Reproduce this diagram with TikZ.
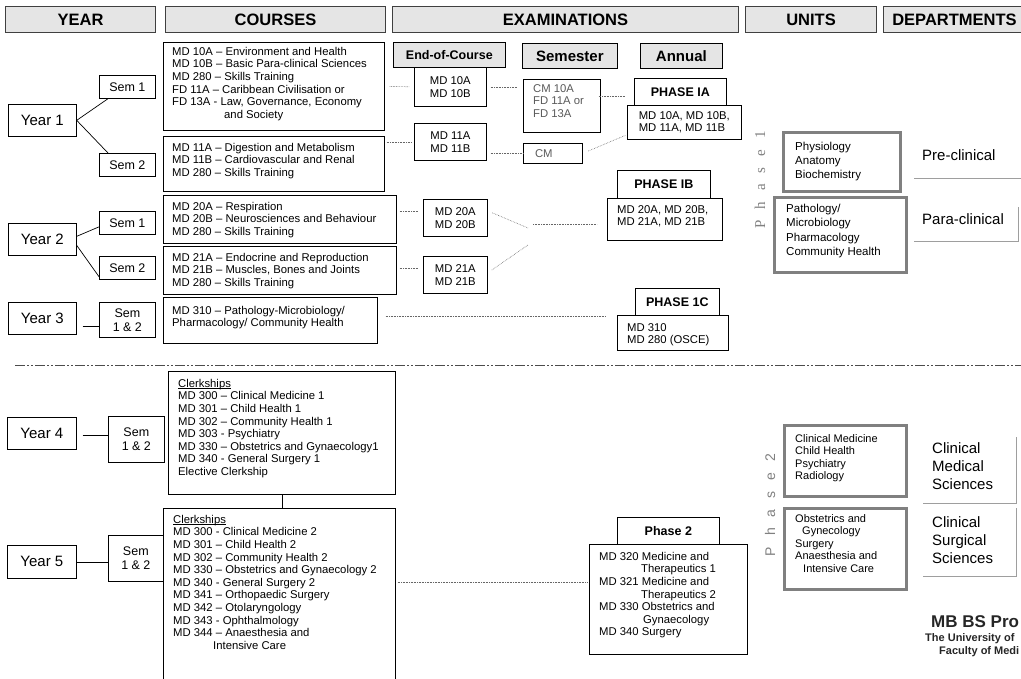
\documentclass[tikz,border=0pt]{standalone}
\usepackage{fontspec}
\setmainfont{Liberation Sans}
\newfontfamily\phaseserif{Liberation Serif}
\usetikzlibrary{positioning}

\definecolor{hdrgray}{gray}{0.9}
\definecolor{unitgray}{gray}{0.5}
\definecolor{linegray}{gray}{0.62}
\definecolor{textgray}{gray}{0.35}

\newcommand{\clerkhead}{\rlap{\rule[-1.5pt]{52.7pt}{0.5pt}}Clerkships}

\tikzset{
  dims/.style 2 args={minimum width=#1pt, minimum height=#2pt},
  hdr/.style={draw=black!75, line width=1pt, fill=hdrgray, anchor=north west, inner sep=0pt, font=\bfseries\fontsize{16.5}{18}\selectfont},
  subhdr/.style={draw, line width=0.7pt, fill=hdrgray, anchor=north west, inner sep=0pt},
  phhdr/.style={draw, line width=0.7pt, fill=white, anchor=north west, inner sep=0pt, font=\bfseries\fontsize{12.5}{14}\selectfont},
  box/.style={draw, line width=0.7pt, anchor=north west, inner sep=0pt, align=center},
  yearbox/.style={box, font=\fontsize{15}{18}\selectfont},
  sembox/.style={box, font=\fontsize{12.5}{14}\selectfont},
  exbox/.style={box, align=left, font=\fontsize{11.3}{12.6}\selectfont},
  txt/.style={anchor=north west, align=left, inner sep=0pt, font=\fontsize{11.3}{12.6}\selectfont},
  unitbox/.style={draw=unitgray, line width=3pt, anchor=north west, inner sep=0pt},
  dept/.style={anchor=west, align=left, inner sep=0pt, font=\fontsize{15}{18}\selectfont},
  deptline/.style={draw=linegray, line width=0.9pt},
  dotline/.style={densely dotted, draw=black!60, line width=0.6pt},
  link/.style={draw, line width=0.7pt},
}

\begin{document}
\begin{tikzpicture}[x=1pt, y=-1pt]
\useasboundingbox (0,0) rectangle (1021,679);
\clip (0,0) rectangle (1021,679);

% Column headers
\node[hdr, dims={150}{26}] (hyear) at (5,6) {YEAR};
\node[hdr, dims={220}{26}] (hcourses) at (165,6) {COURSES};
\node[hdr, dims={346}{26}] (hexam) at (392,6) {EXAMINATIONS};
\node[hdr, dims={131}{26}] (hunits) at (745,6) {UNITS};
\node[hdr, dims={142}{26}] (hdept) at (883,6) {DEPARTMENTS};

% Examination sub-headers
\node[subhdr, dims={112}{25}, font=\bfseries\fontsize{12.5}{14}\selectfont] (heoc) at (393,42) {End-of-Course};
\node[subhdr, dims={95}{25}, font=\bfseries\fontsize{15}{17}\selectfont] (hsem) at (522,43) {Semester};
\node[subhdr, dims={82}{25}, font=\bfseries\fontsize{15}{17}\selectfont] (hann) at (640,43) {Annual};

% Year 1
\node[yearbox, dims={68}{32}] (y1) at (8,104) {Year 1};
\node[sembox, dims={56}{23}] (s1a) at (99,75) {Sem 1};
\node[sembox, dims={56}{23}] (s2a) at (99,153) {Sem 2};
\node[box, dims={221}{88}] (c1) at (163,42) {};
\node[txt] (c1t) at ([shift={(9,5)}]c1.north west) {MD 10A – Environment and Health\\MD 10B – Basic Para-clinical Sciences\\MD 280 – Skills Training\\FD 11A – Caribbean Civilisation or\\FD 13A - Law, Governance, Economy\\\hspace*{52pt}and Society};
\node[box, dims={221}{55}] (c2) at (163,136) {};
\node[txt] (c2t) at ([shift={(9,7)}]c2.north west) {MD 11A – Digestion and Metabolism\\MD 11B – Cardiovascular and Renal\\MD 280 – Skills Training};

\node[exbox, dims={72}{39}] (e10) at (414,67) {MD 10A\\MD 10B};
\node[exbox, dims={72}{37}] (e11) at (414,123) {MD 11A\\MD 11B};
\node[box, dims={77}{53}] (s10) at (523,79) {};
\node[txt, text=textgray] (s10t) at ([shift={(10,5)}]s10.north west) {CM 10A\\FD 11A or\\FD 13A};
\node[box, dims={59}{20}, font=\fontsize{11.3}{12.6}\selectfont, text=textgray] (scm) at (523,143) {\hspace*{-18pt}CM};
\node[exbox, dims={114}{34}] (pIAb) at (627,105) {MD 10A, MD 10B,\\MD 11A, MD 11B};
\node[phhdr, dims={92}{27}] (pIAh) at (634,78) {PHASE IA};

% Year 2
\node[yearbox, dims={68}{32}] (y2) at (8,223) {Year 2};
\node[sembox, dims={56}{23}] (s1b) at (99,211) {Sem 1};
\node[sembox, dims={56}{23}] (s2b) at (99,256) {Sem 2};
\node[box, dims={233}{48}] (c3) at (163,195) {};
\node[txt] (c3t) at ([shift={(9,7)}]c3.north west) {MD 20A – Respiration\\MD 20B – Neurosciences and Behaviour\\MD 280 – Skills Training};
\node[box, dims={233}{48}] (c4) at (163,246) {};
\node[txt] (c4t) at ([shift={(9,7)}]c4.north west) {MD 21A – Endocrine and Reproduction\\MD 21B – Muscles, Bones and Joints\\MD 280 – Skills Training};
\node[exbox, dims={64}{37}] (e20) at (423,199) {MD 20A\\MD 20B};
\node[exbox, dims={64}{37}] (e21) at (423,256) {MD 21A\\MD 21B};
\node[box, dims={115}{42}] (pIBb) at (607,198) {};
\node[txt] (pIBt) at ([shift={(10,7)}]pIBb.north west) {MD 20A, MD 20B,\\MD 21A, MD 21B};
\node[phhdr, dims={93}{28}] (pIBh) at (617,170) {PHASE IB};
\coordinate (ja) at (528,228);
\coordinate (jb) at (528,245);
\coordinate (jn) at (533,224);

% Year 3
\node[yearbox, dims={68}{32}] (y3) at (8,302) {Year 3};
\node[sembox, dims={56}{35}] (s3) at (99,302) {Sem\\1 \& 2};
\node[box, dims={214}{46}] (c5) at (163,297) {};
\node[txt] (c5t) at ([shift={(9,9)}]c5.north west) {MD 310 – Pathology-Microbiology/\\Pharmacology/ Community Health};
\node[box, dims={111}{35}] (pICb) at (617,315) {};
\node[txt] (pICt) at ([shift={(10,8)}]pICb.north west) {MD 310\\MD 280 (OSCE)};
\node[phhdr, dims={84}{27}] (pICh) at (635,288) {PHASE 1C};

% Phase separator
\draw[black!70, line width=0.9pt, dash pattern={on 10pt off 2pt on 2pt off 2pt on 2pt off 2pt}] (15,365) -- (1021,365);

% Year 4
\node[yearbox, dims={69}{32}] (y4) at (7,417) {Year 4};
\node[sembox, dims={56}{46}] (s4) at (108,416) {Sem\\1 \& 2};
\node[box, dims={227}{123}] (c6) at (168,371) {};
\node[txt] (c6t) at ([shift={(10,8)}]c6.north west) {\clerkhead\\MD 300 – Clinical Medicine 1\\MD 301 – Child Health 1\\MD 302 – Community Health 1\\MD 303 - Psychiatry\\MD 330 – Obstetrics and Gynaecology1\\MD 340 - General Surgery 1\\Elective Clerkship};

% Year 5
\node[yearbox, dims={69}{33}] (y5) at (7,545) {Year 5};
\node[sembox, dims={55}{46}] (s5) at (108,535) {Sem\\1 \& 2};
\node[box, dims={232}{185}] (c7) at (163,508) {};
\node[txt] (c7t) at ([shift={(10,7)}]c7.north west) {\clerkhead\\MD 300 - Clinical Medicine 2\\MD 301 – Child Health 2\\MD 302 – Community Health 2\\MD 330 – Obstetrics and Gynaecology 2\\MD 340 - General Surgery 2\\MD 341 – Orthopaedic Surgery\\MD 342 – Otolaryngology\\MD 343 - Ophthalmology\\MD 344 – Anaesthesia and\\\hspace*{40pt}Intensive Care};
\node[box, dims={158}{110}] (p2b) at (589,544) {};
\node[txt] (p2t) at ([shift={(10,8)}]p2b.north west) {MD 320 Medicine and\\\hspace*{42pt}Therapeutics 1\\MD 321 Medicine and\\\hspace*{42pt}Therapeutics 2\\MD 330 Obstetrics and\\\hspace*{44pt}Gynaecology\\MD 340 Surgery};
\node[phhdr, dims={102}{27}] (p2h) at (617,517) {Phase 2};

% Year to semester links
\draw[link] (y1.east) -- ([xshift=9pt]s1a.south west);
\draw[link] (y1.east) -- ([xshift=9pt]s2a.north west);
\draw[link] ([yshift=3pt]y2.east) -- ([yshift=-4pt]s1b.west);
\draw[link] ([yshift=-6pt]y2.east) -- ([yshift=3pt]s2b.south west);
\draw[link] ([xshift=6pt,yshift=-8pt]y3.east) -- ([yshift=-8pt]y3.east -| s3.west);
\draw[link] ([xshift=6pt,yshift=-2pt]y4.east) -- ([yshift=-2pt]y4.east -| s4.west);
\draw[link] (y5.east) -- (y5.east -| s5.west);
\draw[link] (c6.south) -- (c6.south |- c7.north);

% Course to examination links
\draw[dotline, shorten <=5pt, shorten >=5pt] (c1.east) -- (e10.west);
\draw[dotline, shorten <=4pt, shorten >=6pt] (e10.east) -- (e10.east -| s10.west);
\draw[dotline, shorten <=-2pt, shorten >=9pt] ([yshift=-4pt]pIAh.west -| s10.east) -- ([yshift=-4pt]pIAh.west);
\draw[dotline, shorten <=2pt, shorten >=2pt] (c2.east |- e11.west) -- (e11.west);
\draw[dotline, shorten <=4pt] (e11.east |- scm.west) -- (scm.west);
\draw[dotline, shorten <=6pt, shorten >=2pt] (scm.east) -- ([yshift=5pt]pIAb.south west);
\draw[dotline, shorten <=3pt, shorten >=5pt] ([yshift=7pt]e20.west -| c3.east) -- ([yshift=7pt]e20.west);
\draw[dotline, shorten <=3pt, shorten >=5pt] ([yshift=7pt]e21.west -| c4.east) -- ([yshift=7pt]e21.west);
\draw[dotline, shorten <=5pt] ([yshift=7pt]e20.east) -- (ja);
\draw[dotline, shorten <=5pt] ([yshift=2pt]e21.east) -- (jb);
\draw[dotline, shorten >=10pt] (jn) -- (jn -| pIBb.west);
\draw[dotline, shorten <=8pt, shorten >=12pt] ([yshift=4pt]c5.east) -- ([yshift=4pt]c5.east -| pICb.west);
\draw[dotline, shorten <=2pt, shorten >=1pt] ([yshift=19pt]c7.east) -- ([yshift=19pt]c7.east -| p2b.west);

% Phase labels
\node[rotate=90, text=unitgray, inner sep=0pt, font=\phaseserif\fontsize{15}{15}\selectfont] (ph1) at (760,180) {\spaceskip=11pt P h a s e 1};
\node[rotate=90, text=unitgray, inner sep=0pt, font=\fontsize{14}{14}\selectfont] (ph2) at (770,505) {\spaceskip=11pt P h a s e 2};

% Units
\node[unitbox, dims={117}{59}] (u1) at (782,131) {};
\node[txt, font=\fontsize{11.5}{14}\selectfont] (u1t) at ([shift={(13,11)}]u1.north west) {Physiology\\Anatomy\\Biochemistry};
\node[unitbox, dims={132}{75}] (u2) at (773,196) {};
\node[txt, font=\fontsize{11.5}{14.3}\selectfont] (u2t) at ([shift={(13,8)}]u2.north west) {Pathology/\\Microbiology\\Pharmacology\\Community Health};
\node[unitbox, dims={122}{71}] (u3) at (783,424) {};
\node[txt, font=\fontsize{11}{12.6}\selectfont] (u3t) at ([shift={(12,10)}]u3.north west) {Clinical Medicine\\Child Health\\Psychiatry\\Radiology};
\node[unitbox, dims={122}{81}] (u4) at (783,507) {};
\node[txt, font=\fontsize{11}{12.6}\selectfont] (u4t) at ([shift={(12,7)}]u4.north west) {Obstetrics and\\\hspace*{7pt}Gynecology\\Surgery\\Anaesthesia and\\\hspace*{8pt}Intensive Care};

% Departments
\node[dept] (pre) at (922,155) {Pre-clinical};
\draw[deptline] (914,178) -- (1021,178);
\node[dept] (para) at (922,219) {Para-clinical};
\draw[deptline] (914,241) -- (1018,241) -- (1018,207);
\node[dept] (cms) at (932,466) {Clinical\\Medical\\Sciences};
\draw[deptline] (923,503) -- (1016,503) -- (1016,437);
\node[dept] (css) at (932,540) {Clinical\\Surgical\\Sciences};
\draw[deptline] (923,576) -- (1016,576) -- (1016,508);

% Title
\node[anchor=west, inner sep=0pt, text=black!85, font=\bfseries\fontsize{17}{20}\selectfont] (title) at (931,622) {MB BS Pro};
\node[anchor=west, inner sep=0pt, text=black!85, font=\bfseries\fontsize{11}{12}\selectfont] (uni) at (925,639) {The University of};
\node[anchor=west, inner sep=0pt, text=black!85, font=\bfseries\fontsize{11}{12}\selectfont] (fac) at (939,652) {Faculty of Medi};
\end{tikzpicture}
\end{document}
